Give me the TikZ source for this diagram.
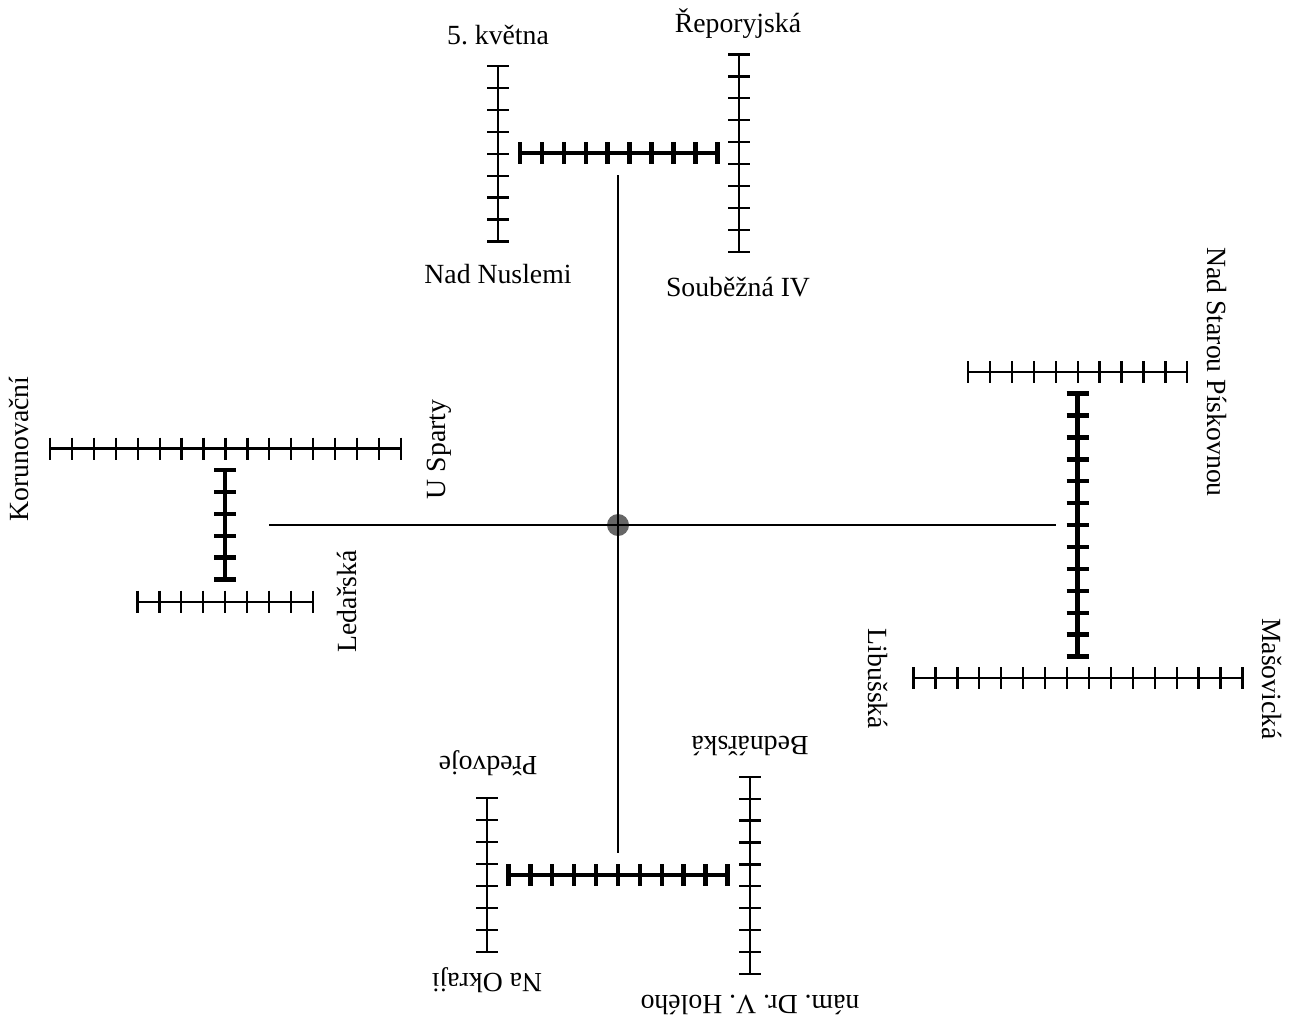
\documentclass[tikz,border=0pt]{standalone}
\usepackage{fontspec}
\setmainfont{Liberation Serif}
\newcommand{\hrail}[6]{% style, x0, y, n intervals, prefix, tick half length
  \coordinate (#5s) at (#2,#3);
  \coordinate (#5e) at ({#2+#4*21.93},#3);
  \draw[#1] (#5s) -- (#5e);
  \foreach \i in {0,...,#4} \draw[#1] ({#2+\i*21.93},{#3-#6}) -- ({#2+\i*21.93},{#3+#6});
}
\newcommand{\vrail}[6]{% style, x, y0, n intervals, prefix, tick half length
  \coordinate (#5s) at (#2,#3);
  \coordinate (#5e) at (#2,{#3+#4*21.93});
  \draw[#1] (#5s) -- (#5e);
  \foreach \i in {0,...,#4} \draw[#1] ({#2-#6},{#3+\i*21.93}) -- ({#2+#6},{#3+\i*21.93});
}
\tikzset{
  rail/.style={line width=1.7pt,black},
  thickrail/.style={line width=3.4pt,black},
  link/.style={line width=1.5pt,black},
  hub/.style={circle,fill=black,fill opacity=0.6,minimum size=16.5pt,inner sep=0pt},
  lab/.style={inner sep=0pt,anchor=base,font=\fontsize{20.8}{24}\selectfont\frenchspacing},
}
\begin{document}
\begin{tikzpicture}[x=0.75pt,y=-0.75pt]
\useasboundingbox (0,0) rectangle (1292,1015);
% top group
\vrail{rail}{498}{66}{8}{ta}{11}
\vrail{rail}{739}{54.5}{9}{tb}{11}
\hrail{thickrail}{520}{153}{9}{tc}{11}
% left group
\hrail{rail}{50}{448.5}{16}{la}{11}
\hrail{rail}{137.5}{601.7}{8}{lb}{11}
\vrail{thickrail}{225}{470}{5}{lc}{11}
% right group
\hrail{rail}{968}{372}{10}{ra}{11}
\hrail{rail}{913.5}{678}{15}{rb}{11}
\vrail{thickrail}{1077.5}{393.5}{12}{rc}{11}
% bottom group
\vrail{rail}{487.3}{798.3}{7}{ba}{11}
\vrail{rail}{750}{776.7}{9}{bb}{11}
\hrail{thickrail}{508.3}{875}{10}{bc}{11}
% hub and links
\coordinate (topend) at (618,175);
\coordinate (leftend) at (269,525);
\coordinate (rightend) at (1056,525);
\coordinate (botend) at (618,852.7);
\coordinate (centre) at (618,525);
\draw[link] (centre) -- (topend);
\draw[link] (centre) -- (leftend);
\draw[link] (centre) -- (rightend);
\draw[link] (centre) -- (botend);
\node[hub] (hubnode) at (centre) {};
% labels
\node[lab] (l1) at (498,44) {5. května};
\node[lab] (l2) at (738,32) {Řeporyjská};
\node[lab] (l3) at (498,283) {Nad Nuslemi};
\node[lab] (l4) at (738,296.5) {Souběžná IV};
\node[lab,rotate=90] (l5) at (28,449) {Korunovační};
\node[lab,rotate=90] (l6) at (445,449.5) {U Sparty};
\node[lab,rotate=90] (l7) at (356.7,601.5) {Ledařská};
\node[lab,rotate=-90] (l8) at (1207.7,372) {Nad Starou Pískovnou};
\node[lab,rotate=-90] (l9) at (1262,679) {Mašovická};
\node[lab,rotate=-90] (l10) at (868,679) {Libušská};
\node[lab,rotate=180] (l11) at (488,756) {Předvoje};
\node[lab,rotate=180] (l12) at (750,736) {Bednářská};
\node[lab,rotate=180] (l13) at (487,973) {Na Okraji};
\node[lab,rotate=180] (l14) at (750,995) {nám. Dr. V\kern0pt. Holého};
\end{tikzpicture}
\end{document}
